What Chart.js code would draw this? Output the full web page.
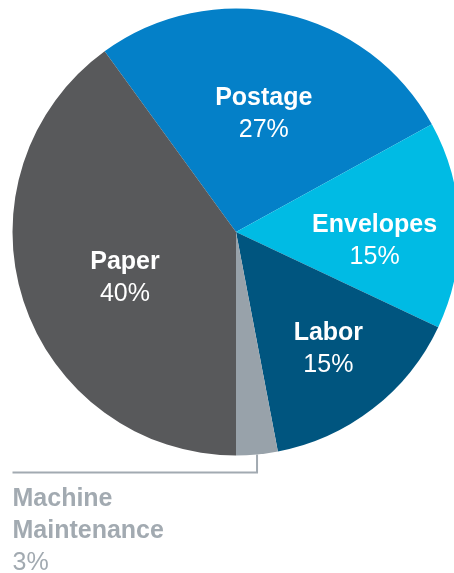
<!DOCTYPE html>
<html>
<head>
<meta charset="utf-8">
<script src="https://cdn.jsdelivr.net/npm/chart.js@4"></script>
<style>
  html, body { margin: 0; padding: 0; background: #ffffff; overflow: hidden; }
  #wrap { position: absolute; left: 0; top: 0; width: 460px; height: 573px; }
</style>
</head>
<body>
<div id="wrap"><canvas id="c" width="460" height="573"></canvas></div>
<script>
// ---- data ----
const categories = ['Postage', 'Envelopes', 'Labor', 'Machine Maintenance', 'Paper'];
const shares = [27, 15, 15, 3, 40];
const shareLabels = ['27%', '15%', '15%', '3%', '40%'];

// ---- styling ----
const sliceColors = ['#0480C8', '#00BBE4', '#00557F', '#98A2AA', '#58595B'];
const labelInside = [true, true, true, false, true];
const labelRadiusFrac = [0.552, 0.621, 0.661, 1, 0.535];
const labelAngleShift = [0.4, 4.7, -0.9, 0, -3.8];
const FONT = '"Liberation Sans", Arial, Helvetica, sans-serif';
const FONT_SIZE = 25;
const outsideColor = '#A2AAB1';

const labelPlugin = {
  id: 'sliceLabels',
  afterDatasetsDraw(chart) {
    const ctx = chart.ctx;
    const meta = chart.getDatasetMeta(0);
    meta.data.forEach((arc, i) => {
      const p = arc.getProps(['x', 'y', 'startAngle', 'endAngle', 'outerRadius'], true);
      const mid = (p.startAngle + p.endAngle) / 2 + labelAngleShift[i] * Math.PI / 180;
      ctx.save();
      if (labelInside[i]) {
        const r = p.outerRadius * labelRadiusFrac[i];
        const cx = p.x + Math.cos(mid) * r;
        const cy = p.y + Math.sin(mid) * r + 2;
        ctx.fillStyle = '#ffffff';
        ctx.textAlign = 'center';
        ctx.textBaseline = 'middle';
        ctx.font = 'bold ' + FONT_SIZE + 'px ' + FONT;
        ctx.fillText(categories[i], cx, cy - 16);
        ctx.font = FONT_SIZE + 'px ' + FONT;
        ctx.fillText(shareLabels[i], cx, cy + 16);
      } else {
        const ex = p.x + Math.cos(mid) * p.outerRadius;
        const ey = p.y + Math.sin(mid) * p.outerRadius;
        const lineY = ey + 18;
        const leftX = chart.chartArea.left;
        ctx.strokeStyle = outsideColor;
        ctx.lineWidth = 2;
        ctx.beginPath();
        ctx.moveTo(ex, ey);
        ctx.lineTo(ex, lineY);
        ctx.lineTo(leftX, lineY);
        ctx.stroke();
        ctx.fillStyle = outsideColor;
        ctx.textAlign = 'left';
        ctx.textBaseline = 'middle';
        const words = categories[i].split(' ');
        let ty = lineY + 27;
        ctx.font = 'bold ' + FONT_SIZE + 'px ' + FONT;
        words.forEach(w => { ctx.fillText(w, leftX, ty); ty += 32; });
        ctx.font = FONT_SIZE + 'px ' + FONT;
        ctx.fillText(shareLabels[i], leftX, ty);
      }
      ctx.restore();
    });
  }
};

new Chart(document.getElementById('c'), {
  type: 'pie',
  data: {
    labels: categories,
    datasets: [{
      data: shares,
      backgroundColor: sliceColors,
      borderWidth: 0,
      hoverOffset: 0
    }]
  },
  options: {
    responsive: false,
    devicePixelRatio: 1,
    animation: false,
    rotation: -36,
    events: [],
    layout: { padding: { left: 12.5, right: 0.5, top: 8.5, bottom: 117.5 } },
    plugins: {
      legend: { display: false },
      tooltip: { enabled: false }
    }
  },
  plugins: [labelPlugin]
});
</script>
</body>
</html>
